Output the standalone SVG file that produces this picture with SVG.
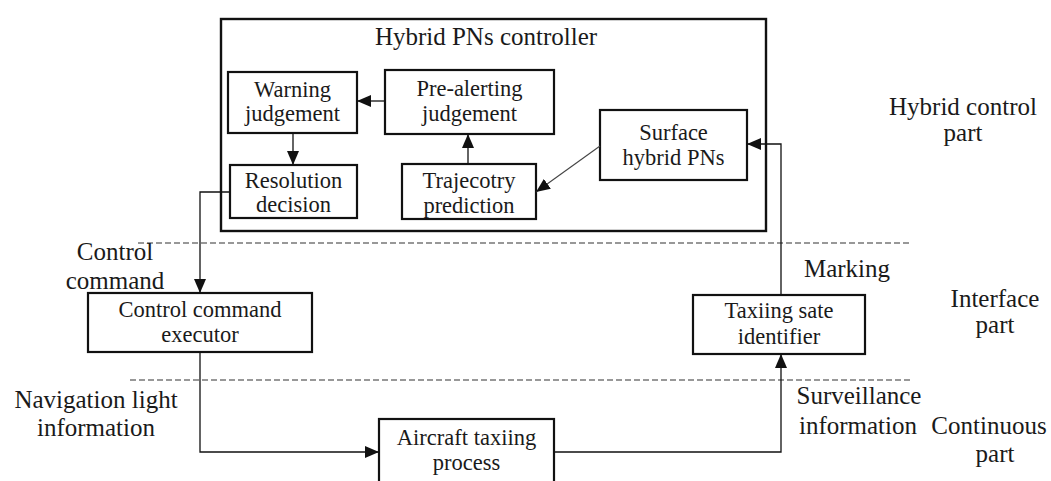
<svg xmlns="http://www.w3.org/2000/svg" width="1051" height="481" viewBox="0 0 1051 481">
  <style>
    text { font-family: 'Liberation Serif', Tinos, 'Times New Roman', 'DejaVu Serif', serif; fill: #1a1a1a; text-anchor: middle; }
    .node { font-size: 22.5px; }
    .label { font-size: 25px; }
    .box { fill: #ffffff; stroke: #111111; stroke-width: 2.2; }
    .frame { fill: none; stroke: #111111; stroke-width: 2.4; }
    .wire { fill: none; stroke: #111111; stroke-width: 1.3; }
    .thin { fill: none; stroke: #444444; stroke-width: 1.1; }
    .divider { fill: none; stroke: #333333; stroke-width: 1.2; stroke-dasharray: 6 3; }
  </style>
  <defs>
    <marker id="arrow" viewBox="0 0 14 12" refX="14" refY="6" markerWidth="14" markerHeight="12" markerUnits="userSpaceOnUse" orient="auto">
      <path d="M0,0 L14,6 L0,12 Z" fill="#111111"/>
    </marker>
  </defs>

  <rect width="1051" height="481" fill="#ffffff"/>

  <!-- layer dividers -->
  <g id="dividers">
    <line class="divider" x1="138" y1="243" x2="912" y2="243"/>
    <line class="divider" x1="130" y1="380" x2="912" y2="380"/>
  </g>

  <!-- controller frame -->
  <g id="controller">
    <rect class="frame" x="221" y="19" width="545" height="212"/>
    <text class="label" x="486" y="45">Hybrid PNs controller</text>
  </g>

  <g id="warning">
    <rect class="box" x="228" y="72" width="129" height="61"/>
    <text class="node" x="292.5" y="97">Warning</text>
    <text class="node" x="292.5" y="121">judgement</text>
  </g>

  <g id="prealert">
    <rect class="box" x="385" y="70" width="169" height="64"/>
    <text class="node" x="469.5" y="96">Pre-alerting</text>
    <text class="node" x="469.5" y="121">judgement</text>
  </g>

  <g id="surface">
    <rect class="box" x="600" y="110" width="147" height="70"/>
    <text class="node" x="673.5" y="140">Surface</text>
    <text class="node" x="673.5" y="165">hybrid PNs</text>
  </g>

  <g id="resolution">
    <rect class="box" x="230" y="165" width="127" height="53"/>
    <text class="node" x="293.5" y="188">Resolution</text>
    <text class="node" x="293.5" y="212">decision</text>
  </g>

  <g id="trajectory">
    <rect class="box" x="402" y="164" width="134" height="55"/>
    <text class="node" x="469" y="188">Trajecotry</text>
    <text class="node" x="469" y="213">prediction</text>
  </g>

  <g id="executor">
    <rect class="box" x="88" y="293" width="224" height="59"/>
    <text class="node" x="200" y="317">Control command</text>
    <text class="node" x="200" y="342">executor</text>
  </g>

  <g id="identifier">
    <rect class="box" x="693" y="295" width="172" height="59"/>
    <text class="node" x="779" y="318">Taxiing sate</text>
    <text class="node" x="779" y="344">identifier</text>
  </g>

  <g id="aircraft">
    <rect class="box" x="379" y="419" width="175" height="70"/>
    <text class="node" x="466.5" y="445">Aircraft taxiing</text>
    <text class="node" x="466.5" y="470">process</text>
  </g>

  <!-- connectors -->
  <g id="connectors">
    <line class="wire" x1="385" y1="101" x2="357" y2="101" marker-end="url(#arrow)"/>
    <line class="wire" x1="293" y1="133" x2="293" y2="165" marker-end="url(#arrow)"/>
    <line class="wire" x1="468" y1="164" x2="468" y2="134" marker-end="url(#arrow)"/>
    <line class="thin" x1="600" y1="146" x2="536" y2="192" marker-end="url(#arrow)"/>
    <polyline class="wire" points="781,295 781,144 747,144" marker-end="url(#arrow)"/>
    <polyline class="wire" points="230,192 200,192 200,293" marker-end="url(#arrow)"/>
    <polyline class="wire" points="200,352 200,452 379,452" marker-end="url(#arrow)"/>
    <polyline class="wire" points="554,452 781,452 781,354" marker-end="url(#arrow)"/>
  </g>

  <!-- side and connector labels -->
  <g id="labels">
    <text class="label" x="115" y="260">Control</text>
    <text class="label" x="115" y="289">command</text>
    <text class="label" x="96" y="408">Navigation light</text>
    <text class="label" x="96" y="436">information</text>
    <text class="label" x="847" y="277">Marking</text>
    <text class="label" x="859" y="404">Surveillance</text>
    <text class="label" x="858" y="434">information</text>
    <text class="label" x="963" y="115">Hybrid control</text>
    <text class="label" x="963" y="141">part</text>
    <text class="label" x="995" y="307">Interface</text>
    <text class="label" x="995" y="333">part</text>
    <text class="label" x="989" y="434">Continuous</text>
    <text class="label" x="995" y="462">part</text>
  </g>
</svg>
